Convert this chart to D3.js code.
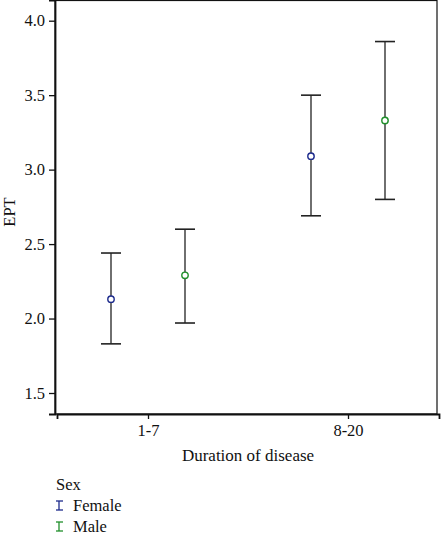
<!DOCTYPE html>
<html>
<head>
<meta charset="utf-8">
<script src="https://cdn.jsdelivr.net/npm/d3@7"></script>
<style>
 body{margin:0;background:#fff;}
 text{font-family:"Liberation Serif","DejaVu Serif",serif;fill:#111;}
</style>
</head>
<body>
<svg id="chart" width="442" height="535"></svg>
<script>
// data
const durations=["1-7","8-20"];
const sexes=["Female","Male"];
const sexColors=["#1c2a8c","#1f8f2a"];
const means=[[2.13,3.09],[2.29,3.33]];   // [sex][duration]
const lower=[[1.83,2.69],[1.97,2.80]];
const upper=[[2.44,3.50],[2.60,3.86]];
const yTicks=[1.5,2.0,2.5,3.0,3.5,4.0];

const svg=d3.select("#chart");
const L=55,R=437,T=0,B=414;
const FS=16.5;

const x=d3.scalePoint().domain(durations).range([L+2,R+2]).padding(0.455);
const off=d3.scalePoint().domain(sexes).range([-37,37]);
const y=d3.scaleLinear().domain([1.359,4.139]).range([B,T]);

// frame
svg.append("rect").attr("x",L).attr("y",T+0.5).attr("width",R-L).attr("height",B-T-0.5)
 .attr("fill","none").attr("stroke","#111").attr("stroke-width",1.2);

const pts=[];
sexes.forEach((s,i)=>durations.forEach((d,j)=>pts.push({
 sex:s,dur:d,color:sexColors[i],m:means[i][j],lo:lower[i][j],hi:upper[i][j]})));

const g=svg.append("g");
const px=d=>x(d.dur)+off(d.sex);
g.selectAll("line.bar").data(pts).enter().append("line")
 .attr("x1",px).attr("x2",px).attr("y1",d=>y(d.lo)).attr("y2",d=>y(d.hi))
 .attr("stroke","#333").attr("stroke-width",1.4);
["lo","hi"].forEach(k=>{
 g.selectAll("line.cap"+k).data(pts).enter().append("line")
  .attr("x1",d=>px(d)-10).attr("x2",d=>px(d)+10)
  .attr("y1",d=>y(d[k])).attr("y2",d=>y(d[k]))
  .attr("stroke","#222").attr("stroke-width",1.6);
});
g.selectAll("circle").data(pts).enter().append("circle")
 .attr("cx",px).attr("cy",d=>y(d.m)).attr("r",3.2)
 .attr("fill","#fff").attr("stroke",d=>d.color).attr("stroke-width",1.4);

// axes
const ya=svg.append("g").attr("transform",`translate(${L},0)`)
 .call(d3.axisLeft(y).tickValues(yTicks).tickFormat(d3.format(".1f")).tickSize(6).tickPadding(4));
const xa=svg.append("g").attr("transform",`translate(0,${B})`)
 .call(d3.axisBottom(x).tickSize(5).tickPadding(5));
[ya,xa].forEach(a=>{
 a.select(".domain").attr("stroke","#111").attr("stroke-width",1.8);
 a.selectAll(".tick line").attr("stroke","#111").attr("stroke-width",1.3);
 a.selectAll("text").attr("font-size",FS).attr("fill","#111")
  .attr("font-family","Liberation Serif, DejaVu Serif, serif");
});

svg.append("text").attr("x",248).attr("y",461).attr("text-anchor","middle")
 .attr("font-size",FS+0.5).text("Duration of disease");
svg.append("text").attr("transform",`translate(15,${(T+B)/2+5}) rotate(-90)`)
 .attr("text-anchor","middle").attr("font-size",FS).text("EPT");

// legend
const lg=svg.append("g").attr("transform","translate(56,0)");
lg.append("text").attr("x",0).attr("y",490).attr("font-size",FS).text("Sex");
sexes.forEach((s,i)=>{
 const cy=506+i*21;
 const sym=lg.append("g").attr("stroke",sexColors[i]).attr("stroke-width",1.3);
 sym.append("line").attr("x1",3).attr("x2",3).attr("y1",cy-5).attr("y2",cy+4);
 sym.append("line").attr("x1",0).attr("x2",7).attr("y1",cy-5).attr("y2",cy-5);
 sym.append("line").attr("x1",0).attr("x2",7).attr("y1",cy+4).attr("y2",cy+4);
 lg.append("text").attr("x",17).attr("y",cy+5).attr("font-size",FS).text(s);
});
</script>
</body>
</html>
